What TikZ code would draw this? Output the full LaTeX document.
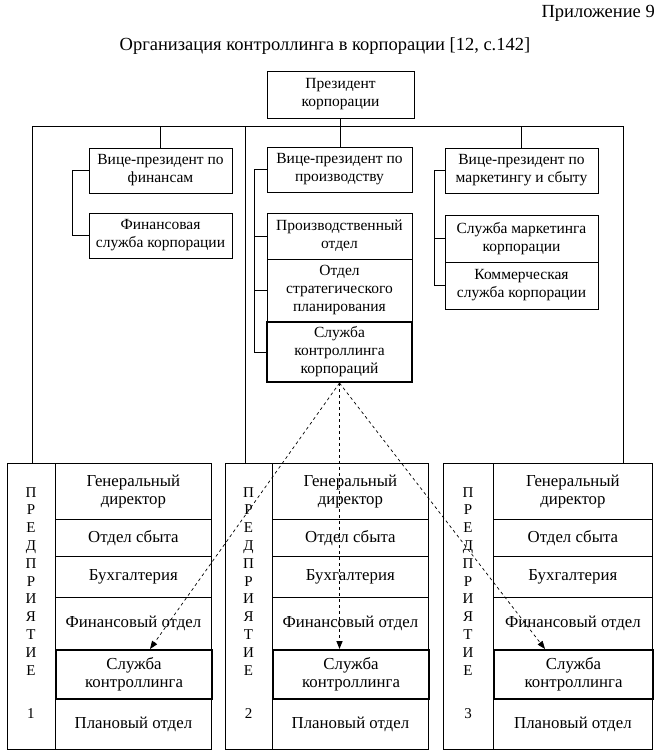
\documentclass[tikz,border=0pt]{standalone}
\usepackage{fontspec}
\setmainfont{Liberation Serif}
\usetikzlibrary{arrows.meta}
\newcommand\entblock[5]{%
  \node[box, minimum width={#3-#2}, minimum height=286, anchor=north west] (#1) at (#2,463) {};
  \node[lettercol, anchor=north] (#1txt) at ({(#2+#3)/2},487) {П\\Р\\Е\\Д\\П\\Р\\И\\Я\\Т\\И\\Е\\[26pt]#5};
  \node[ebox, minimum width={#4-#3}, minimum height=56, anchor=north west] (#1gd) at (#3,463) {Генеральный\\директор};
  \node[ebox, minimum width={#4-#3}, minimum height=37, anchor=north west] (#1os) at (#3,519) {Отдел сбыта};
  \node[ebox, minimum width={#4-#3}, minimum height=41, anchor=north west] (#1bu) at (#3,556) {Бухгалтерия};
  \node[ebox, minimum width={#4-#3}, minimum height=52, anchor=north west] (#1fo) at (#3,597) {Финансовый отдел};
  \node[ebox, minimum width={#4-#3}, minimum height=51, anchor=north west] (#1po) at (#3,698) {Плановый отдел};
  \node[ethickbox, minimum width={#4-#3}, minimum height=49, anchor=north west] (#1ck) at (#3,649) {Служба\\контроллинга};
}
\begin{document}
\begin{tikzpicture}[x=1pt,y=-1pt,
  box/.style={draw, line width=0.8pt, inner sep=0pt, align=center, font=\fontsize{15.5}{18}\selectfont},
  thickbox/.style={box, line width=2pt},
  ebox/.style={box, font=\fontsize{16.8}{18.5}\selectfont},
  ethickbox/.style={ebox, line width=2pt},
  lettercol/.style={inner sep=0pt, align=center, font=\fontsize{15}{17.8}\selectfont},
  conn/.style={line width=0.8pt},
  ctl/.style={dash pattern=on 3pt off 3pt, line width=0.7pt, -{Triangle[length=8pt,width=6pt]}},
  ctlmid/.style={ctl, line width=1.4pt},
  titlefont/.style={inner sep=0pt, font=\fontsize{18.5}{21}\selectfont}
]
\useasboundingbox (0,0) rectangle (659,755);

\node[titlefont, anchor=east] (app) at (655,13) {Приложение 9};
\node[titlefont] (title) at (325,46) {Организация контроллинга в корпорации [12, с.142]};

\node[box, minimum width=147, minimum height=47] (pres) at (340.5,94.5) {Президент\\корпорации};

\node[box, minimum width=143, minimum height=45] (vpfin) at (160.5,170.5) {Вице-президент по\\финансам};
\node[box, minimum width=143, minimum height=45] (finserv) at (160.5,235.5) {Финансовая\\служба корпорации};

\node[box, minimum width=145, minimum height=45] (vpprod) at (339.5,169.5) {Вице-президент по\\производству};
\node[box, minimum width=145, minimum height=46] (proddept) at (339.5,236) {Производственный\\отдел};
\node[box, minimum width=145, minimum height=63] (strat) at (339.5,290.5) {Отдел\\стратегического\\планирования};
\node[thickbox, minimum width=145, minimum height=60] (ck) at (339.5,352) {Служба\\контроллинга\\корпораций};

\node[box, minimum width=153, minimum height=45] (vpmkt) at (521.5,170.5) {Вице-президент по\\маркетингу и сбыту};
\node[box, minimum width=153, minimum height=47] (mktserv) at (521.5,238.5) {Служба маркетинга\\корпорации};
\node[box, minimum width=153, minimum height=47] (comm) at (521.5,285.5) {Коммерческая\\служба корпорации};

\entblock{ea}{7}{55}{211}{1}
\entblock{eb}{225}{272}{428}{2}
\entblock{ec}{443}{493}{652}{3}

% bus
\coordinate (busL) at (32,126);
\coordinate (busR) at (623,126);
\coordinate (busM) at (245,126);
\draw[conn] (busL) -- (busR);
\draw[line width=1.5pt] (pres.south) -- (pres.south |- vpprod.north);
\draw[conn] (vpfin.north) -- (vpfin.north |- busL);
\draw[conn] (vpmkt.north) -- (vpmkt.north |- busL);
\draw[conn] (busL) -- (busL |- ea.north);
\draw[conn] (busM) -- (busM |- eb.north);
\draw[conn] (busR) -- (busR |- ec.north);

% brackets
\draw[conn] (vpfin.west) -- ++(-16,0) |- (finserv.west);
\draw[conn] (vpprod.west) -- ++(-12,0) |- (ck.west);
\draw[conn] (proddept.west) -- ++(-12,0);
\draw[conn] (strat.west) -- ++(-12,0);
\draw[conn] (vpmkt.west) -- ++(-10,0) |- (comm.west);
\draw[conn] (mktserv.west) -- ++(-10,0);

% control links
\coordinate (ta) at (150,649);
\coordinate (tc) at (545,649);
\draw[ctl] (ck.south) -- (ta);
\draw[ctlmid] (ck.south) -- (ck.south |- ebck.north);
\draw[ctl] (ck.south) -- (tc);
\end{tikzpicture}
\end{document}
